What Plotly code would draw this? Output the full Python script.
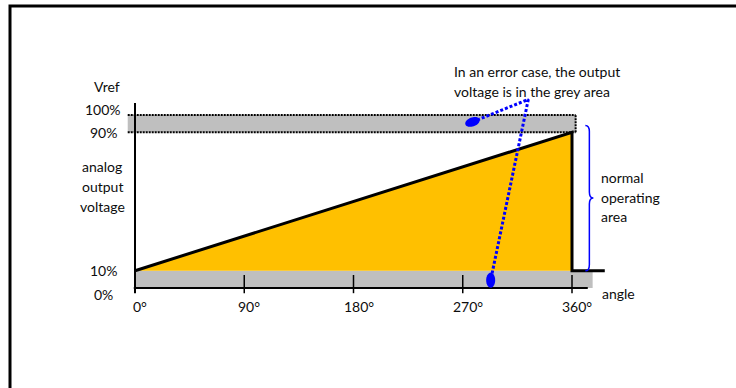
import numpy as np
import plotly.graph_objects as go

W, H = 736, 388

# axes
angle_ticks = [0, 90, 180, 270, 360]
angle_labels = ["0°", "90°", "180°", "270°", "360°"]
volt_ticks = [0, 10, 90, 100]
volt_labels = ["0%", "10%", "90%", "100%"]

# output voltage (% of Vref) over the angle, incl. the drop after 360°
ramp_angle = [0, 360, 360, 387]
ramp_volt = [10, 90, 10, 10]

# grey error areas
low_error = [0, 10]
high_error = [90, 100]
low_band_angle = [0, 377]
high_band_angle = [-6, 363]

# callout from the text: upper error point, knee, lower error point
callout_angle = [278, 324, 293]
callout_volt = [96, 109, 4.5]

# normal operating area brace
brace_volt = [10, 94]
brace_angle = 371

# pixel scale of the drawing
X0, XS = 135, 437 / 360
Y0, YS = 288, 1.73

BLACK = "#000000"
TEXT = "#0d0d0d"
GREY = "#bfbfbf"
YELLOW = "#ffc000"
BLUE = "#0000ff"
FONT = "Lato"


def px(x):
    return x / W


def py(y):
    return 1 - y / H


def ellipse(cx, cy, a, b, deg):
    t = np.linspace(0, 2 * np.pi, 40)
    th = np.radians(deg)
    dx = a * np.cos(t) * np.cos(th) - b * np.sin(t) * np.sin(th)
    dy = a * np.cos(t) * np.sin(th) + b * np.sin(t) * np.cos(th)
    return cx + dx / XS, cy + dy / YS


fig = go.Figure()

# grey bands
for xs, ys in [(low_band_angle, low_error), (high_band_angle, high_error)]:
    fig.add_shape(type="rect", x0=xs[0], x1=xs[1], y0=ys[0], y1=ys[1],
                  fillcolor=GREY, line_width=0, layer="below")

# yellow area under the ramp
fig.add_trace(go.Scatter(
    x=ramp_angle[:3] + [ramp_angle[0]], y=[ramp_volt[0], ramp_volt[1], ramp_volt[0], ramp_volt[0]],
    fill="toself", fillcolor=YELLOW, mode="none", hoverinfo="skip",
))

# dotted limits 90% / 100%
for v in high_error:
    fig.add_trace(go.Scatter(
        x=high_band_angle, y=[v, v], mode="lines",
        line=dict(color=BLACK, width=2, dash="2px,1px"), hoverinfo="skip",
    ))
fig.add_trace(go.Scatter(
    x=[high_band_angle[1]] * 2, y=high_error, mode="lines",
    line=dict(color=BLACK, width=2, dash="2px,1px"), hoverinfo="skip",
))

# axes
fig.add_trace(go.Scatter(
    x=[0, 0, None, -1, 373], y=[-3, 107, None, 0, 0], mode="lines",
    line=dict(color=BLACK, width=2), hoverinfo="skip",
))
tx, ty = [], []
for t in angle_ticks[1:]:
    tx += [t, t, None]
    ty += [7.5, -3, None]
fig.add_trace(go.Scatter(x=tx, y=ty, mode="lines",
                         line=dict(color=BLACK, width=1.5), hoverinfo="skip"))

# output voltage
fig.add_trace(go.Scatter(
    x=ramp_angle, y=ramp_volt, mode="lines",
    line=dict(color=BLACK, width=3), hoverinfo="skip",
))

# callout
fig.add_trace(go.Scatter(
    x=callout_angle, y=callout_volt, mode="lines",
    line=dict(color=BLUE, width=3, dash="3px,2px"), hoverinfo="skip",
))
for (cx, cy, a, b, d) in [(callout_angle[0], callout_volt[0], 7.5, 4.5, 20),
                          (callout_angle[2], callout_volt[2], 4.5, 7.5, 0)]:
    ex, ey = ellipse(cx, cy, a, b, d)
    fig.add_trace(go.Scatter(x=ex, y=ey, fill="toself", fillcolor=BLUE,
                             mode="none", hoverinfo="skip"))

# brace
b0, b1 = brace_volt
bm = (b0 + b1) / 2
xa, xb, xc = brace_angle, brace_angle + 3.3, brace_angle + 6.6
k = 3.5
brace = (f"M {xa},{b1} Q {xb},{b1} {xb},{b1 - k} L {xb},{bm + k} "
         f"Q {xb},{bm} {xc},{bm} Q {xb},{bm} {xb},{bm - k} "
         f"L {xb},{b0 + k} Q {xb},{b0} {xa},{b0}")
fig.add_shape(type="path", path=brace, line=dict(color=BLUE, width=1.5))

ann = []
for v, lab, s in zip(volt_ticks, volt_labels, [-6, 0, 0, 6]):
    ann.append(dict(x=px(103), xref="paper", y=v, yref="y", yshift=s,
                    text=lab, showarrow=False, xanchor="center", yanchor="middle"))
for a, lab in zip(angle_ticks, angle_labels):
    ann.append(dict(x=a, xref="x", y=py(306), yref="paper", xshift=5,
                    text=lab, showarrow=False, xanchor="center", yanchor="middle"))

texts = [
    ("Vref", 107, 87, "center"),
    ("analog", 102, 166, "center"),
    ("output", 102, 186, "center"),
    ("voltage", 102, 206, "center"),
    ("In an error case, the output", 452, 71, "left"),
    ("voltage is in the grey area", 452, 91, "left"),
    ("normal", 599, 178, "left"),
    ("operating", 599, 197, "left"),
    ("area", 599, 216, "left"),
    ("angle", 600, 293, "left"),
]
for t, x, y, anc in texts:
    ann.append(dict(x=px(x), y=py(y), xref="paper", yref="paper", text=t,
                    showarrow=False, xanchor=anc, yanchor="middle"))

# outer frame (left and top edges)
fig.add_shape(type="path", xref="paper", yref="paper",
              path=f"M {px(10)},0 L {px(10)},{py(6)} L 1,{py(6)}",
              line=dict(color=BLACK, width=3))

fig.update_layout(
    width=W, height=H, autosize=False,
    margin=dict(l=0, r=0, t=0, b=0, pad=0),
    paper_bgcolor="white", plot_bgcolor="white",
    showlegend=False,
    font=dict(family=FONT, size=14, color=TEXT),
    xaxis=dict(visible=False, range=[-X0 / XS, (W - X0) / XS], fixedrange=True),
    yaxis=dict(visible=False, range=[-(H - Y0) / YS, Y0 / YS], fixedrange=True),
    annotations=ann,
)

fig.write_html("out.html", config={"displayModeBar": False},
               post_script="document.body.style.margin='0';")
